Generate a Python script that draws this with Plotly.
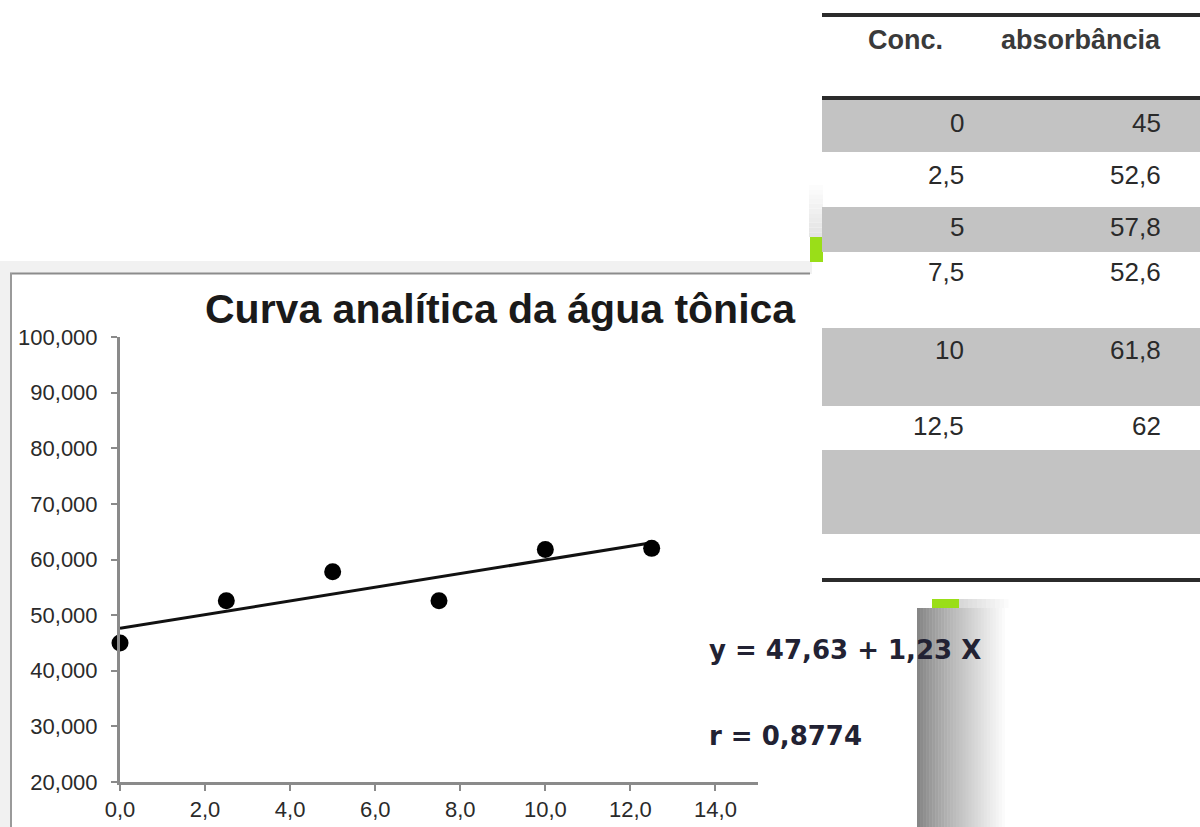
import plotly.graph_objects as go

# ---- data ----
conc = [0, 2.5, 5, 7.5, 10, 12.5]
absorb = [45, 52.6, 57.8, 52.6, 61.8, 62]
intercept = 47.63
slope = 1.23
r_value = 0.8774
title_text = "Curva analítica da água tônica"
table_headers = ["Conc.", "absorbância"]

W, H = 1200, 827


def X(px):
    return px / W


def Y(py):
    return 1 - py / H


def fmt(v):
    return f"{v:g}".replace(".", ",")


fig = go.Figure()

# fitted line
x_line = [conc[0], conc[-1]]
y_line = [intercept + slope * x for x in x_line]
fig.add_trace(go.Scatter(x=x_line, y=y_line, mode="lines",
                         line=dict(color="#111111", width=3), hoverinfo="skip"))
# points
fig.add_trace(go.Scatter(x=conc, y=absorb, mode="markers", cliponaxis=False,
                         marker=dict(color="#000000", size=17)))

shapes = []


def rect(x0, y0, x1, y1, color, layer="below"):
    shapes.append(dict(type="rect", xref="paper", yref="paper",
                       x0=X(x0), x1=X(x1), y0=Y(y1), y1=Y(y0),
                       fillcolor=color, line=dict(width=0), layer=layer))


def hline(x0, x1, y, color, width, layer="below"):
    shapes.append(dict(type="line", xref="paper", yref="paper",
                       x0=X(x0), x1=X(x1), y0=Y(y), y1=Y(y),
                       line=dict(color=color, width=width), layer=layer))


def vline(x, y0, y1, color, width, layer="below"):
    shapes.append(dict(type="line", xref="paper", yref="paper",
                       x0=X(x), x1=X(x), y0=Y(y0), y1=Y(y1),
                       line=dict(color=color, width=width), layer=layer))


# chart frame with soft shadow
rect(0, 261, 812, H, "#f1f1f1")
rect(11, 274, 812, H, "#ffffff")
hline(10, 810, 273.5, "#8c8c8c", 2)
vline(11, 273, H, "#9a9a9a", 2)

# small decorations near table
for i in range(12):
    g = int(255 - (255 - 0xe4) * i / 11)
    rect(809, 180 + i * 4.75, 823, 180 + (i + 1) * 4.75, f"rgb({g},{g},{g})")
rect(810, 237, 823, 262, "#9ade18")

# table bands
for (a, b) in [(100, 152), (207, 252), (328, 406), (450, 534)]:
    rect(822, a, W, b, "#c3c3c3")
hline(822, W, 15, "#2b2b2b", 4)
hline(822, W, 98, "#2b2b2b", 4)
hline(822, W, 580, "#2b2b2b", 4)

# grey gradient box
n = 30
x0b, x1b = 917, 1008
for i in range(n):
    g = int(0x86 + (255 - 0x86) * (i / (n - 1)) ** 0.9)
    rect(x0b + (x1b - x0b) * i / n, 608, x0b + (x1b - x0b) * (i + 1) / n + 0.5, H,
         f"rgb({g},{g},{g})", layer="above")
for i in range(12):
    g = int(0xd8 + (255 - 0xd8) * i / 11)
    rect(959 + i * 4.5, 599, 959 + (i + 1) * 4.5 + 0.5, 608, f"rgb({g},{g},{g})", layer="above")
rect(932, 599, 959, 608, "#9ade18", layer="above")

annotations = []

# title
annotations.append(dict(text=f"<b>{title_text}</b>", xref="paper", yref="paper",
                        x=X(500), y=Y(309), xanchor="center", yanchor="middle",
                        showarrow=False,
                        font=dict(family="Liberation Sans, Arial", size=41, color="#1a1a1a")))

# table headers
annotations.append(dict(text=f"<b>{table_headers[0]}</b>", xref="paper", yref="paper",
                        x=X(905), y=Y(40), xanchor="center", yanchor="middle", showarrow=False,
                        font=dict(family="Liberation Sans, Arial", size=27, color="#3a3a3a")))
annotations.append(dict(text=f"<b>{table_headers[1]}</b>", xref="paper", yref="paper",
                        x=X(1163), y=Y(40), xanchor="right", yanchor="middle", showarrow=False,
                        font=dict(family="Liberation Sans, Arial", size=27, color="#3a3a3a")))

row_y = [123, 175, 227, 272, 350, 426]
for c, a, ry in zip(conc, absorb, row_y):
    annotations.append(dict(text=fmt(c), xref="paper", yref="paper",
                            x=X(966), y=Y(ry), xanchor="right", yanchor="middle", showarrow=False,
                            font=dict(family="Liberation Sans, Arial", size=26, color="#2a2a2a")))
    annotations.append(dict(text=fmt(a), xref="paper", yref="paper",
                            x=X(1163), y=Y(ry), xanchor="right", yanchor="middle", showarrow=False,
                            font=dict(family="Liberation Sans, Arial", size=26, color="#2a2a2a")))

# equation and r
eq = f"y = {intercept:.2f} + {slope:.2f} X".replace(".", ",")
rtxt = f"r = {r_value:.4f}".replace(".", ",")
annotations.append(dict(text=f"<b>{eq}</b>", xref="paper", yref="paper",
                        x=X(707), y=Y(650), xanchor="left", yanchor="middle", showarrow=False,
                        font=dict(family="DejaVu Sans", size=26, color="#222233")))
annotations.append(dict(text=f"<b>{rtxt}</b>", xref="paper", yref="paper",
                        x=X(707), y=Y(736), xanchor="left", yanchor="middle", showarrow=False,
                        font=dict(family="DejaVu Sans", size=26, color="#222233")))

axis_font = dict(family="Liberation Sans, Arial", size=22, color="#2a2a2a")
fig.update_layout(
    width=W, height=H, autosize=False,
    margin=dict(l=0, r=0, t=0, b=0, pad=0, autoexpand=False),
    paper_bgcolor="#ffffff",
    plot_bgcolor="rgba(0,0,0,0)",
    showlegend=False,
    separators=",.",
    shapes=shapes,
    annotations=annotations,
    xaxis=dict(domain=[X(120), X(758)], range=[0, 15], tickvals=[0, 2, 4, 6, 8, 10, 12, 14],
               tickformat=".1f", showgrid=False, zeroline=False, showline=True, automargin=False,
               linecolor="#8a8a8a", linewidth=3, ticks="outside", ticklen=6,
               tickcolor="#8a8a8a", tickwidth=2, tickfont=axis_font, ticklabelstandoff=0),
    yaxis=dict(domain=[Y(782), Y(337)], range=[20, 100], dtick=10, tick0=20,
               tickformat=".3f", showgrid=False, zeroline=False, showline=True, automargin=False,
               linecolor="#8a8a8a", linewidth=3, ticks="outside", ticklen=6,
               tickcolor="#8a8a8a", tickwidth=2, tickfont=axis_font, ticklabelstandoff=9),
)

fig.write_html("out.html", config={"responsive": False, "displayModeBar": False},
               post_script="document.body.style.margin='0';")
